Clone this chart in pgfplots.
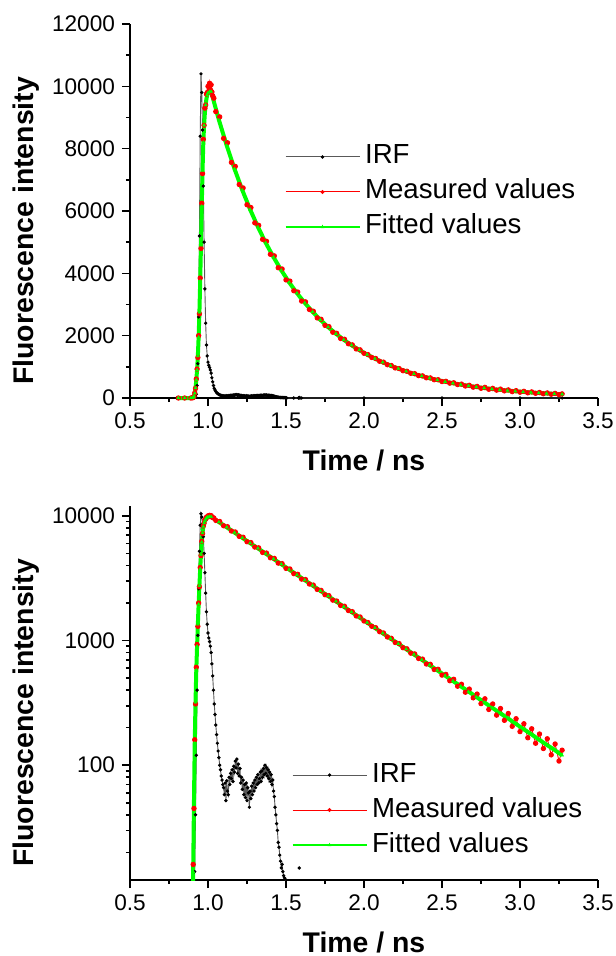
\documentclass[border=0pt]{standalone}
\usepackage{fontspec}
\setmainfont{Liberation Sans}
\usepackage{pgfplots}
\pgfplotsset{compat=1.18}
\usepackage{pgfplotstable}
\definecolor{fred}{RGB}{255,0,0}
\definecolor{fgreen}{RGB}{0,255,0}

\pgfplotstableread{
t v
0.80 0
0.85 0
0.90 0
0.91 0
0.915 14
0.92 40
0.925 120
0.93 400
0.935 1100
0.94 2600
0.945 5200
0.95 8400
0.955 10400
0.96 9800
0.965 8600
0.97 6800
0.975 5000
0.98 3500
0.985 2400
0.99 1700
0.995 1350
1.00 1150
1.005 1050
1.01 980
1.015 900
1.02 800
1.025 650
1.03 520
1.035 400
1.04 310
1.045 255
1.05 210
1.055 176
1.06 150
1.065 130
1.07 115
1.075 100
1.08 92
1.085 82
1.09 76
1.095 70
1.10 66
1.105 58
1.11 72
1.115 52
1.12 75
1.125 62
1.13 58
1.135 80
1.14 70
1.145 86
1.15 78
1.155 92
1.16 74
1.165 98
1.17 88
1.175 108
1.18 95
1.185 112
1.19 86
1.195 102
1.20 82
1.205 94
1.21 72
1.215 80
1.22 64
1.225 76
1.23 58
1.235 70
1.24 55
1.245 72
1.25 52
1.255 66
1.26 60
1.265 46
1.27 62
1.275 54
1.28 68
1.285 58
1.29 72
1.295 62
1.30 76
1.305 66
1.31 80
1.315 70
1.32 84
1.325 72
1.33 78
1.335 88
1.34 74
1.345 90
1.35 80
1.355 94
1.36 84
1.365 100
1.37 86
1.375 96
1.38 82
1.385 92
1.39 78
1.395 88
1.40 74
1.405 84
1.41 70
1.415 76
1.42 62
1.425 56
1.43 46
1.435 40
1.44 34
1.445 30
1.45 24
1.455 22
1.46 19
1.465 17
1.47 15
1.475 16
1.48 14
1.485 13
1.49 12.5
1.495 12.2
1.50 11
1.505 0
1.55 0
1.58 0
1.585 15
1.59 0
1.60 0
2.00 0
2.50 0
3.00 0
3.27 0
}\irf

\pgfplotstableread{
t v
0.81 0
0.85 0
0.89 0
0.90 6
0.905 16
0.91 45
0.915 160
0.92 310
0.925 610
0.93 930
0.935 1300
0.94 2000
0.945 2700
0.95 3850
0.955 4800
0.96 6250
0.965 7200
0.97 8300
0.975 8750
0.98 9300
0.985 9400
0.99 9750
0.995 9800
1.00 10000
1.005 9850
1.01 10100
1.015 9900
1.02 10050
1.025 9820
1.03 9700
1.0375 9620
1.05 9190
1.075 9020
1.10 8330
1.125 8190
1.15 7560
1.175 7430
1.20 6850
1.225 6740
1.25 6200
1.275 6110
1.30 5620
1.325 5540
1.35 5090
1.375 5030
1.40 4610
1.425 4560
1.45 4180
1.475 4140
1.50 3790
1.525 3750
1.55 3440
1.575 3400
1.60 3110
1.625 3085
1.65 2840
1.675 2785
1.70 2570
1.725 2525
1.75 2330
1.775 2290
1.80 2110
1.825 2075
1.85 1910
1.875 1885
1.90 1740
1.925 1705
1.95 1575
1.975 1545
2.00 1435
2.025 1395
2.05 1300
2.075 1268
2.10 1178
2.125 1150
2.15 1068
2.175 1042
2.20 965
2.225 945
2.25 876
2.275 858
2.30 792
2.325 781
2.35 718
2.375 710
2.40 648
2.425 645
2.45 586
2.475 588
2.50 528
2.525 535
2.55 476
2.575 489
2.60 430
2.625 446
2.65 385
2.675 408
2.70 347
2.725 372
2.75 312
2.775 341
2.80 280
2.825 310
2.85 252
2.875 285
2.90 229
2.925 260
2.95 205
2.975 236
3.00 186
3.025 215
3.05 166
3.075 196
3.10 150
3.125 178
3.15 136
3.175 163
3.20 121
3.225 148
3.25 108
3.27 132
}\meas

\pgfplotstableread{
t v
0.81 0
0.85 0
0.89 0
0.90 5
0.905 14
0.91 50
0.915 150
0.92 320
0.925 580
0.93 900
0.935 1350
0.94 1950
0.945 2750
0.95 3750
0.955 4900
0.96 6150
0.965 7300
0.97 8200
0.975 8750
0.98 9150
0.985 9400
0.99 9600
0.995 9720
1.00 9790
1.01 9830
1.02 9830
1.07 8920
1.12 8100
1.17 7350
1.22 6670
1.27 6050
1.32 5490
1.37 4980
1.42 4519
1.47 4097
1.52 3714
1.57 3367
1.62 3053
1.67 2768
1.72 2509
1.77 2275
1.82 2063
1.87 1870
1.92 1695
1.97 1537
2.02 1394
2.07 1263
2.12 1145
2.17 1039
2.22 942
2.27 854
2.32 774
2.37 702
2.42 636
2.47 577
2.52 523
2.57 474
2.62 430
2.67 390
2.72 353
2.77 320
2.82 290
2.87 263
2.92 239
2.97 216
3.02 196
3.07 178
3.12 161
3.17 146
3.22 133
3.27 120
}\fit

\pgfplotsset{
  flstyle/.style={
    scale only axis, width=234bp, height=187bp,
    xmin=0.5, xmax=3.5,
    axis x line*=bottom, axis y line*=left,
    axis line style={line width=0.9bp},
    xtick={0.5,1.0,1.5,2.0,2.5,3.0,3.5},
    minor x tick num=1,
    xticklabel style={/pgf/number format/.cd, fixed, fixed zerofill, precision=1},
    tick align=outside,
    major tick length=4bp, minor tick length=2bp,
    every tick/.style={black, line width=0.8bp},
    ticklabel style={font=\fontsize{11.3bp}{13bp}\selectfont},
    /pgf/number format/assume math mode=true,
    /pgf/number format/1000 sep={},
    label style={font=\fontsize{14.2bp}{16bp}\selectfont\bfseries},
    xlabel={Time / ns},
    ylabel={Fluorescence intensity},
    xlabel style={at={(axis description cs:0.5,-0.193)}, anchor=base},
    ylabel style={at={(axis description cs:-0.222,0.447)}, anchor=center},
    legend cell align=left,
    legend image code/.code={
      \draw[mark repeat=2,mark phase=2,#1] plot coordinates {(0bp,0bp) (18.5bp,0bp) (37bp,0bp)};
    },
    unbounded coords=jump,
  },
  irfstyle/.style={black!65, line width=0.45bp, mark=*, mark size=0.6bp, mark options={black, fill=black}},
  measstyle/.style={fred, line width=0.45bp, mark=*, mark size=1.1bp, mark options={fred, fill=fred}, legend image post style={mark size=0.75bp}},
  fitstyle/.style={fgreen, line width=2.0bp, mark=triangle*, mark size=0.8bp, mark options={fgreen, fill=fgreen, line width=0.3bp}, legend image post style={line width=0.6bp}},
}

\begin{document}
\begin{tikzpicture}
\useasboundingbox (-65bp,-279bp) rectangle (243bp,199bp);
\begin{axis}[flstyle,
  at={(0bp,0bp)}, anchor=south west,
  ymin=0, ymax=12000,
  ytick={0,2000,4000,6000,8000,10000,12000},
  minor y tick num=1,
  scaled y ticks=false,
  clip=false,
  legend style={draw=none, fill=none, at={(rel axis cs:0.331,0.551)}, anchor=west,
    inner sep=0pt, outer sep=0pt, row sep=4.5bp,
    font=\fontsize{13.8bp}{15bp}\selectfont,
    nodes={inner ysep=0pt, inner xsep=2.5bp, text height=10bp, text depth=3bp}},
]
\addplot[irfstyle] table[x=t,y=v] {\irf};
\addlegendentry{IRF}
\addplot[measstyle] table[x=t,y=v] {\meas};
\addlegendentry{Measured values}
\addplot[fitstyle] table[x=t,y=v] {\fit};
\addlegendentry{Fitted values}
\end{axis}

\begin{axis}[flstyle,
  at={(0bp,-241bp)}, anchor=south west,
  ymode=log, ymin=12, ymax=12000,
  ytick={100,1000,10000},
  yticklabels={100,1000,10000},
  minor ytick={20,30,40,50,60,70,80,90,200,300,400,500,600,700,800,900,2000,3000,4000,5000,6000,7000,8000,9000},
  clip=true,
  legend style={draw=none, fill=none, at={(rel axis cs:0.346,0.187)}, anchor=west,
    inner sep=0pt, outer sep=0pt, row sep=4.5bp,
    font=\fontsize{13.8bp}{15bp}\selectfont,
    nodes={inner ysep=0pt, inner xsep=2.5bp, text height=10bp, text depth=3bp}},
]
\addplot[irfstyle] table[x=t,y=v] {\irf};
\addlegendentry{IRF}
\addplot[measstyle] table[x=t,y=v] {\meas};
\addlegendentry{Measured values}
\addplot[fitstyle] table[x=t,y=v] {\fit};
\addlegendentry{Fitted values}
\end{axis}
\end{tikzpicture}
\end{document}
